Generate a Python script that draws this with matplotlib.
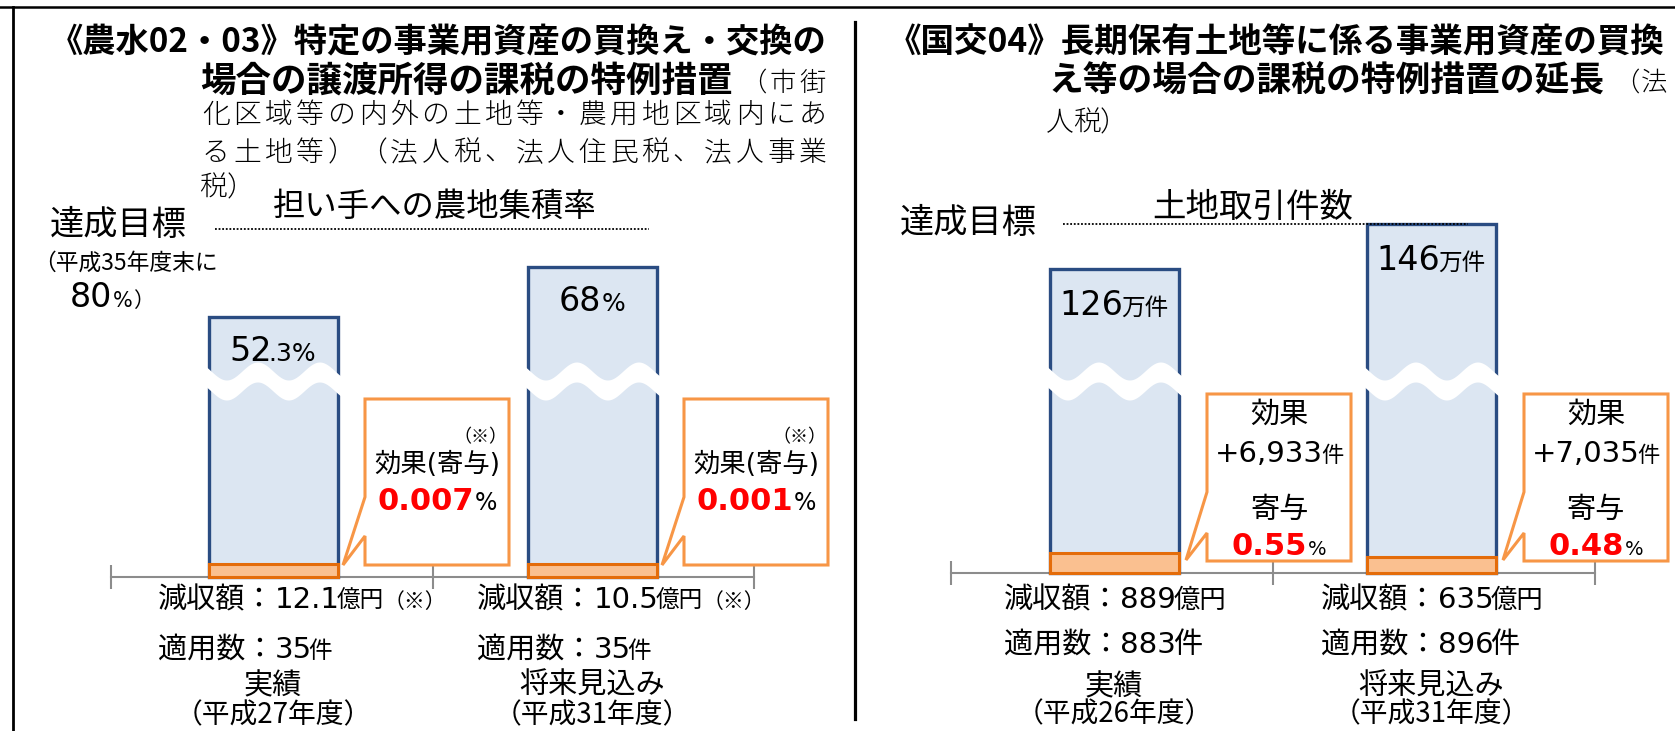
import numpy as np
import matplotlib
matplotlib.use('Agg')
import matplotlib.pyplot as plt
from matplotlib.patches import Polygon

plt.rcParams['font.family'] = ['Noto Sans CJK JP', 'DejaVu Sans']
JP = ['Noto Sans CJK JP', 'DejaVu Sans']
NUM = ['DejaVu Sans', 'Noto Sans CJK JP']

# ---- data (left panel: 農水02・03) ----
left_cats = ['実績', '将来見込み']
left_years = ['（平成27年度）', '（平成31年度）']
left_rate = [52.3, 68]          # 担い手への農地集積率 (%)
left_target = 80                # 達成目標 (平成35年度末に80%)
left_effect = ['0.007', '0.001']
left_cut = ['12.1', '10.5']     # 減収額 (億円)
left_count = ['35', '35']       # 適用数 (件)

# ---- data (right panel: 国交04) ----
right_cats = ['実績', '将来見込み']
right_years = ['（平成26年度）', '（平成31年度）']
right_deals = [126, 146]        # 土地取引件数 (万件)
right_target = 146
right_effect = ['+6,933', '+7,035']
right_share = ['0.55', '0.48']
right_cut = ['889', '635']      # 減収額 (億円)
right_count = ['883', '896']    # 適用数 (件)

W, H = 1675, 731
BAR_FILL = '#DCE6F2'
BAR_EDGE = '#2A4C82'
SEG_FILL = '#FAC090'
SEG_EDGE = '#E46C0A'
CALLOUT = '#F79646'
RED = '#FF0000'
AXIS = '#8C8C8C'

fig = plt.figure(figsize=(W / 100, H / 100), dpi=100)
ax = fig.add_axes([0, 0, 1, 1])
ax.set_xlim(0, W)
ax.set_ylim(H, 0)
ax.axis('off')
rend = fig.canvas.get_renderer()


def width(t):
    return t.get_window_extent(renderer=rend).width


def runs(x, y, pieces, ha='left'):
    # pieces: (text, size, color, weight, family, gap_before)
    objs, gaps = [], []
    for s, size, color, weight, fam, gap in pieces:
        objs.append(ax.text(0, y, s, fontsize=size, color=color, fontweight=weight,
                            family=fam, ha='left', va='baseline', zorder=6))
        gaps.append(gap)
    ws = [width(t) for t in objs]
    total = sum(ws) + sum(gaps[1:])
    cur = x - total / 2 if ha == 'center' else x
    for k, (t, w) in enumerate(zip(objs, ws)):
        if k > 0:
            cur += gaps[k]
        t.set_x(cur)
        cur += w


def fit(x0, x1, y, s, size, weight='normal', fam=JP):
    t = ax.text(x0, y, s, fontsize=size, fontweight=weight, family=fam,
                ha='left', va='center', zorder=6)
    t.set_fontsize(size * (x1 - x0) / width(t))
    return t


def spaced(x0, adv, y, s, size, weight='light'):
    for k, ch in enumerate(s):
        ax.text(x0 + (k + 0.5) * adv, y, ch, fontsize=size, fontweight=weight,
                ha='center', va='center', zorder=6)


def make_scale(ref_v, ref_y, k):
    return lambda v: ref_y - k * (v - ref_v)


def split_val(v, unit):
    head, _, tail = f'{v:g}'.partition('.')
    return head, ('.' + tail if tail else '') + unit


def wave(bx, bw):
    left = bx - bw / 2
    xx = np.linspace(left - 4, left + bw + 4, 300)
    c = 381 - 9 * np.cos(2 * np.pi * (xx - (left + 49)) / 62)
    ax.fill_between(xx, c - 10, c + 10, color='white', lw=0, zorder=4)


def callout(bx, off, w, top, bot, t1, t2, tip_off, tip_y):
    x0 = bx + off
    x1 = x0 + w
    pts = [(x0, top), (x1, top), (x1, bot), (x0, bot), (x0, t2),
           (bx + tip_off, tip_y), (x0, t1)]
    ax.add_patch(Polygon(pts, closed=True, facecolor='white', edgecolor=CALLOUT,
                         lw=2.2, joinstyle='miter', zorder=3))
    return (x0 + x1) / 2, x1


def axis_line(xs, step, base, pad):
    edges = [xs[0] - step / 2 - pad, (xs[0] + xs[1]) / 2, xs[-1] + step / 2 + pad]
    ax.plot([edges[0], edges[-1]], [base, base], color=AXIS, lw=1.5, zorder=1)
    ax.vlines(edges, base - 12, base + 12, color=AXIS, lw=1.5, zorder=1)


# ---- frame ----
ax.plot([0, W], [7, 7], color='black', lw=1.8, zorder=7)
ax.plot([13, 13], [7, H], color='black', lw=2.0, zorder=7)
ax.plot([855, 855], [22, 719], color='black', lw=2.3, zorder=7)

BW = 129

# ======== left panel ========
fit(50, 828, 43, '《農水02・03》特定の事業用資産の買換え・交換の', 24, 'bold')
fit(200, 734, 81, '場合の譲渡所得の課税の特例措置', 24, 'bold')
spaced(738, 30, 83, '（市街', 19)
spaced(200, 31.4, 115, '化区域等の内外の土地等・農用地区域内にあ', 20)
spaced(200, 31.4, 153, 'る土地等）（法人税、法人住民税、法人事業', 20)
spaced(199, 28, 188, '税）', 20)
fit(273, 597, 207, '担い手への農地集積率', 23)
fit(50, 187, 226, '達成目標', 24)
fit(33, 218, 263, '（平成35年度末に', 15)
runs(70, 307, [(f'{left_target:g}', 24, 'black', 'normal', NUM, 0),
               ('%', 15, 'black', 'normal', NUM, 1),
               ('）', 15, 'black', 'normal', JP, 0)])

lmap = make_scale(68, 267, 3.19)
lx = [273 + 319 * i for i in range(len(left_rate))]
lbase = 577
ltops = [lmap(v) for v in left_rate]
axis_line(lx, 319, lbase, 2.5)
ax.bar(lx, [t - lbase for t in ltops], bottom=lbase, width=BW, color=BAR_FILL,
       edgecolor=BAR_EDGE, linewidth=2.4, zorder=2)
ax.bar(lx, [-13] * len(lx), bottom=lbase, width=BW, color=SEG_FILL,
       edgecolor=SEG_EDGE, linewidth=2.2, zorder=3)
ax.plot([215, 649], [lmap(left_target)] * 2, color='black', lw=1.3,
        linestyle=(0, (1, 1)), zorder=5)

for i, bx in enumerate(lx):
    wave(bx, BW)
    head, small = split_val(left_rate[i], '%')
    gap = -4 if small.startswith('.') else 1
    runs(bx, ltops[i] + 44, [(head, 24, 'black', 'normal', NUM, 0),
                             (small, 18, 'black', 'normal', NUM, gap)], ha='center')
    cx, x1 = callout(bx, 92, 144, 399, 565, 497, 536, 70, 565)
    ax.text(x1 - 29, 437, '（※）', fontsize=13, ha='center', va='center', zorder=6)
    ax.text(cx, 465, '効果(寄与)', fontsize=19, family=NUM, ha='center', va='center', zorder=6)
    runs(cx, 510, [(left_effect[i], 22, RED, 'bold', NUM, 0),
                   ('%', 17, 'black', 'normal', NUM, 1)], ha='center')
    runs(bx - 115, 608, [('減収額：', 21, 'black', 'normal', JP, 0),
                         (left_cut[i], 21, 'black', 'normal', NUM, 0),
                         ('億円', 17, 'black', 'normal', JP, -3),
                         ('（※）', 15, 'black', 'normal', JP, 0)])
    runs(bx - 115, 658, [('適用数：', 21, 'black', 'normal', JP, 0),
                         (left_count[i], 21, 'black', 'normal', NUM, 0),
                         ('件', 17, 'black', 'normal', JP, -3)])
    ax.text(bx, 686, left_cats[i], fontsize=21, ha='center', va='center')
    ax.text(bx, 715, left_years[i], fontsize=20, ha='center', va='center')

# ======== right panel ========
fit(888, 1667, 43, '《国交04》長期保有土地等に係る事業用資産の買換', 24, 'bold')
fit(1048, 1605, 81, 'え等の場合の課税の特例措置の延長', 24, 'bold')
spaced(1612, 28, 83, '（法', 19)
spaced(1046, 27, 123, '人税）', 20)
fit(1152, 1353, 207, '土地取引件数', 24)
fit(900, 1037, 224, '達成目標', 24)

rmap = make_scale(126, 269, 2.25)
rx = [1114 + 317 * i for i in range(len(right_deals))]
rbase = 573
rtops = [rmap(v) for v in right_deals]
axis_line(rx, 317, rbase, 5)
ax.bar(rx, [t - rbase for t in rtops], bottom=rbase, width=BW, color=BAR_FILL,
       edgecolor=BAR_EDGE, linewidth=2.4, zorder=2)
ax.bar(rx, [-20, -16], bottom=rbase, width=BW, color=SEG_FILL,
       edgecolor=SEG_EDGE, linewidth=2.2, zorder=3)
ax.plot([1063, 1468], [rmap(right_target)] * 2, color='black', lw=1.3,
        linestyle=(0, (1, 1)), zorder=5)

for i, bx in enumerate(rx):
    wave(bx, BW)
    runs(bx, rtops[i] + 46, [(f'{right_deals[i]:g}', 24, 'black', 'normal', NUM, 0),
                             ('万件', 17, 'black', 'normal', JP, -2)], ha='center')
    cx, x1 = callout(bx, 93, 144, 394, 561, 492, 533, 72, 560)
    ax.text(cx, 415, '効果', fontsize=21, ha='center', va='center', zorder=6)
    runs(cx, 462, [(right_effect[i], 21, 'black', 'normal', NUM, 0),
                   ('件', 16, 'black', 'normal', JP, -2)], ha='center')
    ax.text(cx, 510, '寄与', fontsize=21, ha='center', va='center', zorder=6)
    runs(cx, 555, [(right_share[i], 22, RED, 'bold', NUM, 0),
                   ('%', 14, 'black', 'normal', NUM, 1)], ha='center')
    runs(bx - 110, 608, [('減収額：', 21, 'black', 'normal', JP, 0),
                         (right_cut[i], 21, 'black', 'normal', NUM, 0),
                         ('億円', 19, 'black', 'normal', JP, -3)])
    runs(bx - 110, 653, [('適用数：', 21, 'black', 'normal', JP, 0),
                         (right_count[i], 21, 'black', 'normal', NUM, 0),
                         ('件', 21, 'black', 'normal', JP, -3)])
    ax.text(bx, 687, right_cats[i], fontsize=21, ha='center', va='center')
    ax.text(bx, 714, right_years[i], fontsize=20, ha='center', va='center')

fig.savefig('out.png', dpi=100)
